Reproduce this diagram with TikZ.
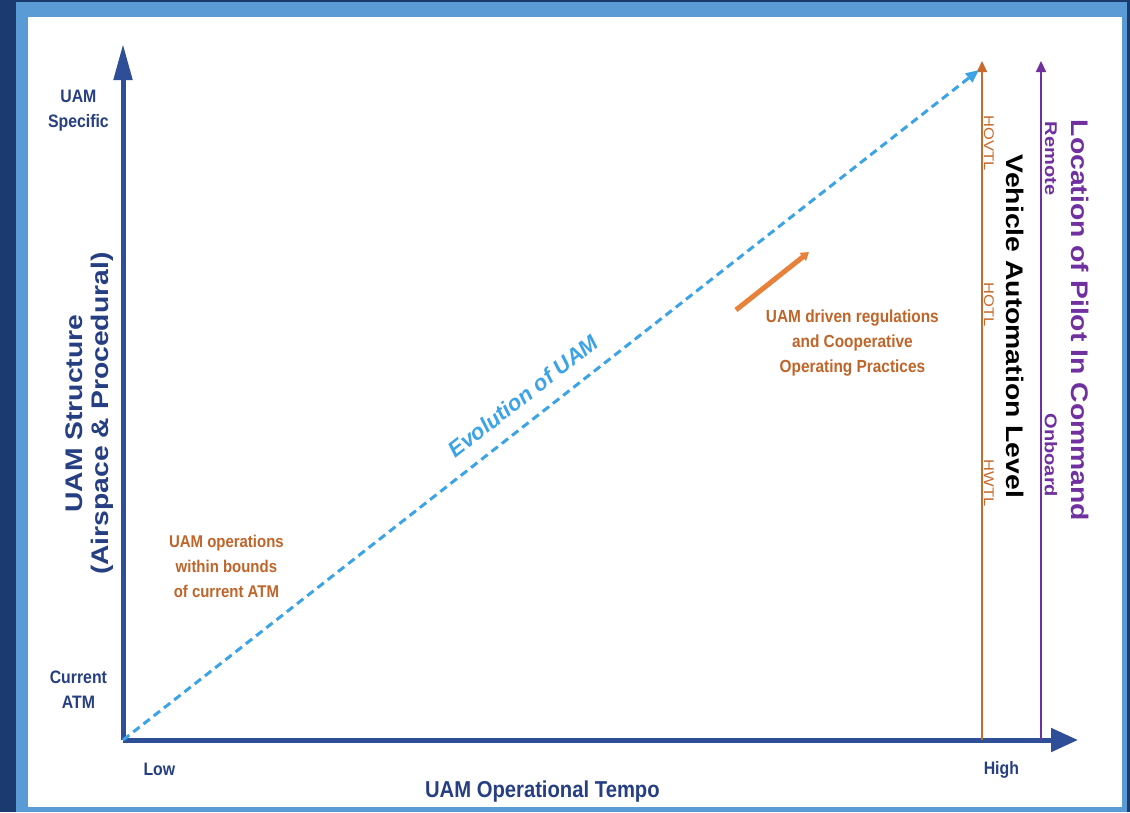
\documentclass[tikz,border=0pt]{standalone}
\usepackage{fontspec}
\setmainfont{Liberation Sans}
\newfontfamily\narrowfont{Liberation Sans}[FakeStretch=0.88]
\newfontfamily\tallfont{Liberation Sans}[FakeStretch=1.18]
\usetikzlibrary{arrows.meta}
\definecolor{navyband}{HTML}{1B3A6E}
\definecolor{framebl}{HTML}{5B9BD5}
\definecolor{axisblue}{HTML}{2F4E98}
\definecolor{labelnavy}{HTML}{263F82}
\definecolor{textorange}{HTML}{C0652A}
\definecolor{arroworange}{HTML}{E8813A}
\definecolor{lineorange}{HTML}{C86A2C}
\definecolor{pilotpurple}{HTML}{7030A0}
\definecolor{evoblue}{HTML}{3BA3E6}
\begin{document}
\begin{tikzpicture}[x=1pt,y=-1pt,
	axisline/.style={draw=axisblue,line width=5pt},
	navytext/.style={text=labelnavy,inner sep=1pt},
	orangetext/.style={text=textorange,inner sep=1pt,align=center}]
		\newcommand{\myfontnarrow}[1]{
			\narrowfont\bfseries\fontsize{#1}{25}\selectfont
		}\newcommand{\myfonttall}[1]{
			\tallfont\bfseries\fontsize{#1}{26}\selectfont
		}%Frame
		\useasboundingbox (0,0) rectangle (1130,812);
		\fill[navyband] (0,0) rectangle (1130,812);
		\fill[framebl] (16,2) rectangle (1127,812);
		\fill[white] (28,17) rectangle (1122,807);
		%Axes
		\coordinate (origin) at (123,740);
		\coordinate (yTip) at (123,44);
		\coordinate (xTip) at (1078,740);
		\draw[axisline,-{Triangle[length=36pt,width=18pt]}] (origin.center) -- (yTip);
		\draw[axisline,-{Triangle[length=27pt,width=23pt]}] (origin.center) -- (xTip);
		%Vehicle automation and pilot location lines
		\coordinate (autoBase) at (982,740);
		\coordinate (autoTip) at (982,61);
		\coordinate (pilotBase) at (1041,740);
		\coordinate (pilotTip) at (1041,61);
		\draw[lineorange,line width=2pt,-{Triangle[length=11pt,width=10pt]}] (autoBase) -- (autoTip);
		\draw[pilotpurple,line width=2pt,-{Triangle[length=11pt,width=10pt]}] (pilotBase) -- (pilotTip);
		%Evolution of UAM
		\coordinate (evoTip) at (979,70);
		\draw[evoblue,line width=3pt,dash pattern=on 8pt off 5pt,-{Triangle[length=13pt,width=11pt]}] (origin) -- (evoTip);
		\node [text=evoblue,rotate=38,font=\bfseries\itshape\fontsize{22}{25}\selectfont] (evo) at (523,396) {Evolution of UAM};
		%UAM driven arrow
		\coordinate (drivenStart) at (736,310);
		\coordinate (drivenEnd) at (809,252);
		\draw[arroworange,line width=5pt,-{Triangle[length=8pt,width=10pt]}] (drivenStart) -- (drivenEnd);
		%Labels of the y axis
		\node [navytext,align=center,font=\myfontnarrow{18}] (uamSpecific) at (77,111) {UAM\\Specific};
		\node [navytext,align=center,font=\myfontnarrow{18}] (currentAtm) at (77,690) {Current\\ATM};
		\node [navytext,align=center,rotate=90,font=\myfonttall{24}] (structure) at (90,415) {UAM Structure\\(Airspace \& Procedural)};
		%Labels of the x axis
		\node [navytext,font=\myfontnarrow{18}] (low) at (158,769) {Low};
		\node [navytext,font=\myfontnarrow{18}] (high) at (1000,770) {High};
		\node [navytext,font=\myfontnarrow{23}] (tempo) at (541,792) {UAM Operational Tempo};
		%Orange notes
		\node [orangetext,font=\myfontnarrow{17}] (currentOps) at (225,566) {UAM operations\\within bounds\\of current ATM};
		\node [orangetext,font=\myfontnarrow{17.5}] (drivenOps) at (851,343) {UAM driven regulations\\and Cooperative\\Operating Practices};
		%Automation levels
		\node [text=lineorange,rotate=-90,inner sep=1pt,font=\tallfont\fontsize{14}{16}\selectfont] (hovtl) at (989,143) {HOVTL};
		\node [text=lineorange,rotate=-90,inner sep=1pt,font=\tallfont\fontsize{14}{16}\selectfont] (hotl) at (989,305) {HOTL};
		\node [text=lineorange,rotate=-90,inner sep=1pt,font=\tallfont\fontsize{14}{16}\selectfont] (hwtl) at (989,483) {HWTL};
		\node [text=black,rotate=-90,inner sep=1pt,font=\myfonttall{24}] (automation) at (1015,325) {Vehicle Automation Level};
		%Pilot location
		\node [text=pilotpurple,rotate=-90,inner sep=1pt,font=\myfonttall{17}] (remote) at (1051,157) {Remote};
		\node [text=pilotpurple,rotate=-90,inner sep=1pt,font=\myfonttall{17}] (onboard) at (1051,454) {Onboard};
		\node [text=pilotpurple,rotate=-90,inner sep=1pt,font=\myfonttall{24}] (pilotLoc) at (1080,319) {Location of Pilot In Command};
		\end{tikzpicture}
\end{document}
